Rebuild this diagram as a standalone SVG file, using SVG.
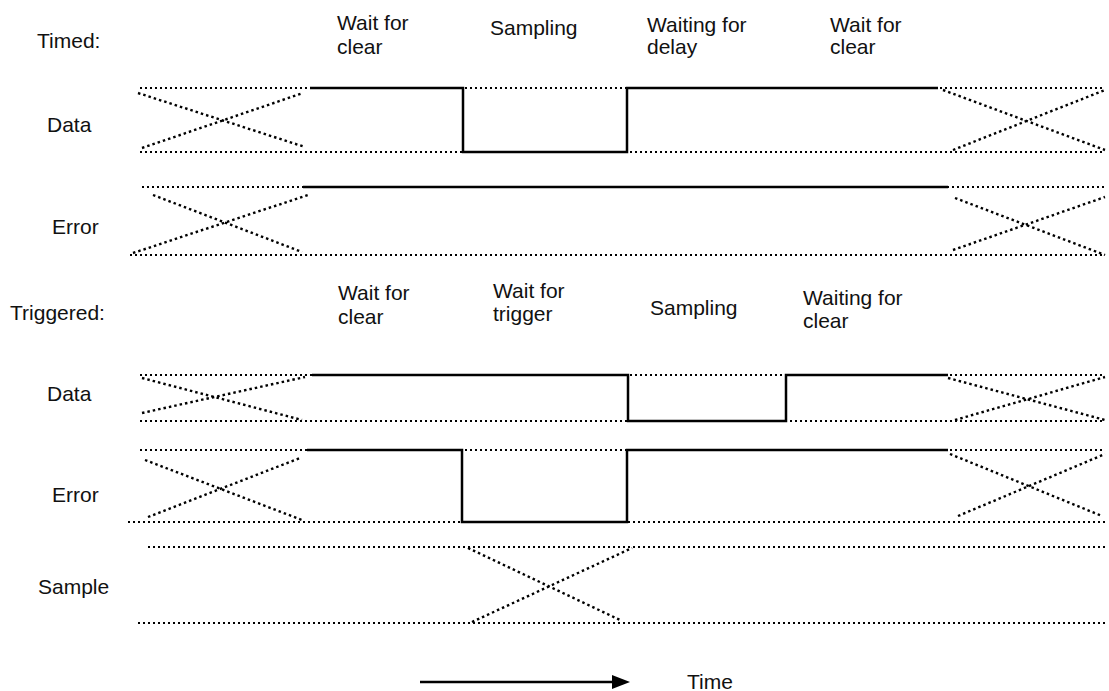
<svg xmlns="http://www.w3.org/2000/svg" width="1109" height="691" viewBox="0 0 1109 691">
<style>
text{font-family:"Liberation Sans",Arial,sans-serif;font-size:21px;fill:#111}
.d{stroke:#000;stroke-width:2;stroke-dasharray:2 3;fill:none}
.x{stroke:#000;stroke-width:2.4;stroke-dasharray:2.5 3;fill:none}
.s{stroke:#000;stroke-width:2.5;fill:none;stroke-linejoin:miter}
</style>
<rect width="1109" height="691" fill="#fff"/>
<g id="labels">
<text x="37" y="48">Timed:</text>
<text x="47" y="132">Data</text>
<text x="52" y="234">Error</text>
<text x="10" y="320">Triggered:</text>
<text x="47" y="401">Data</text>
<text x="52" y="502">Error</text>
<text x="38" y="594">Sample</text>
</g>
<g id="phase-labels-timed">
<text x="337" y="30">Wait for</text><text x="337" y="54">clear</text>
<text x="490" y="35">Sampling</text>
<text x="647" y="32">Waiting for</text><text x="647" y="54">delay</text>
<text x="830" y="32">Wait for</text><text x="830" y="54">clear</text>
</g>
<g id="phase-labels-triggered">
<text x="338" y="300">Wait for</text><text x="338" y="324">clear</text>
<text x="493" y="298">Wait for</text><text x="493" y="321">trigger</text>
<text x="650" y="315">Sampling</text>
<text x="803" y="305">Waiting for</text><text x="803" y="328">clear</text>
</g>
<g id="timed-data">
<path class="d" d="M140 88H1105M140 152H1105"/>
<path class="x" d="M138 93L305 147M142 148L303 93M943 90L1105 150M953 150L1105 90"/>
<path class="s" d="M310 88H463V152H627V88H938"/>
</g>
<g id="timed-error">
<path class="d" d="M142 187H1105M130 255H1105"/>
<path class="x" d="M153 195L302 252M133 253L308 195M955 198L1105 255M953 250L1105 197"/>
<path class="s" d="M303 187H948"/>
</g>
<g id="triggered-data">
<path class="d" d="M140 375H1105M140 421H1105"/>
<path class="x" d="M142 378L302 420M142 413L305 377M948 378L1105 420M955 420L1105 377"/>
<path class="s" d="M312 375H628V421H786V375H948"/>
</g>
<g id="triggered-error">
<path class="d" d="M140 450H1105M128 522H1105"/>
<path class="x" d="M145 460L302 520M148 517L300 458M950 454L1102 516M958 516L1105 454"/>
<path class="s" d="M307 450H462V522H627V450H948"/>
</g>
<g id="sample">
<path class="d" d="M148 547H1105M138 623H1105"/>
<path class="x" d="M468 548L620 620M472 622L632 548"/>
</g>
<g id="connectors">
<line x1="420" y1="682" x2="616" y2="682" stroke="#000" stroke-width="2.5"/>
<polygon points="612,675 630,682 612,689" fill="#000"/>
<text x="687" y="689">Time</text>
</g>
</svg>
